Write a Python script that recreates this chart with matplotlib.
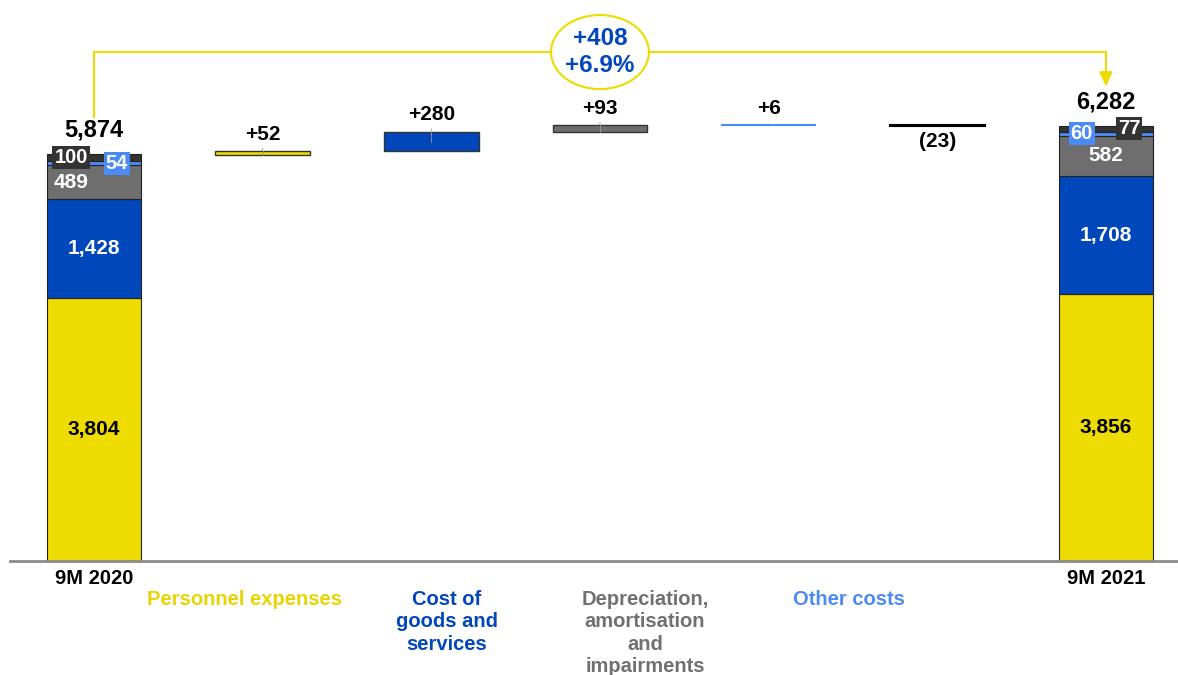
import matplotlib
matplotlib.use("Agg")
import matplotlib.pyplot as plt
from matplotlib.patches import Ellipse, Polygon
import numpy as np

plt.rcParams['font.family'] = ['Liberation Sans', 'DejaVu Sans']

# ---- data ----
periods = ["9M 2020", "9M 2021"]
personnel = [3804, 3856]
goods = [1428, 1708]
depreciation = [489, 582]
other = [54, 60]
misc = [100, 77]
totals = [5874, 6282]

bridge_labels = ["Personnel expenses", "Cost of\ngoods and\nservices",
                 "Depreciation,\namortisation\nand\nimpairments", "Other costs", ""]
bridge_values = [52, 280, 93, 6, -23]
bridge_text = ["+52", "+280", "+93", "+6", "(23)"]
delta_text = "+408\n+6.9%"

# ---- style ----
C_YEL = "#EEDC00"
C_BLUE = "#0047BB"
C_GRAY = "#6E6E6E"
C_LBLUE = "#4C8BF5"
C_DARK = "#333333"
C_BLACK = "#000000"
seg_colors = [C_YEL, C_BLUE, C_GRAY, C_LBLUE, C_DARK]
bridge_colors = [C_YEL, C_BLUE, C_GRAY, C_LBLUE, C_BLACK]
label_colors = ["#E9D400", C_BLUE, "#707070", C_LBLUE]
label_x = [0.895, 2.093, 3.267, 4.476]

FS_TOT = 17
FS_IN = 15
FS_BOX = 14.5
FS_BR = 15
FS_CAT = 14.5

fig = plt.figure(figsize=(11.78, 6.75), dpi=100)
ax = fig.add_axes([0, 0, 1, 1])
ax.set_xlim(-0.557, 6.427)
ax.set_ylim(-1647, 8107)
ax.axis('off')

W = 0.56
xs_tot = [0, 6]
segs = [personnel, goods, depreciation, other, misc]

# stacked totals
for j, x in enumerate(xs_tot):
    bottom = 0
    for s, col in zip(segs, seg_colors):
        ax.bar(x, s[j], W, bottom=bottom, color=col, edgecolor="#222222", linewidth=0.8, zorder=2)
        bottom += s[j]
    ax.annotate(f"{totals[j]:,}", xy=(x, totals[j]), xytext=(0, 17.5), textcoords="offset points",
                ha="center", va="center", fontsize=FS_TOT, fontweight="bold", color="black", zorder=5)

# inside labels
dx = 0.136
for j, x in enumerate(xs_tot):
    ax.text(x, personnel[j] / 2, f"{personnel[j]:,}", ha="center", va="center",
            fontsize=FS_IN, fontweight="bold", color="black", zorder=5)
    ax.text(x, personnel[j] + goods[j] / 2, f"{goods[j]:,}", ha="center", va="center",
            fontsize=FS_IN, fontweight="bold", color="white", zorder=5)
    yd = personnel[j] + goods[j] + depreciation[j] / 2
    ax.text(x - dx if j == 0 else x, yd, f"{depreciation[j]:,}", ha="center", va="center",
            fontsize=FS_IN, fontweight="bold", color="white", zorder=5)
    yo = personnel[j] + goods[j] + depreciation[j] + other[j] / 2
    ym = personnel[j] + goods[j] + depreciation[j] + other[j] + misc[j] / 2
    ox = x + dx if j == 0 else x - dx * 1.05
    mx = x - dx if j == 0 else x + dx
    ax.text(ox, yo, f"{other[j]}", ha="center", va="center", fontsize=FS_BOX, fontweight="bold",
            color="white", zorder=6,
            bbox=dict(boxstyle="square,pad=0.1", facecolor=C_LBLUE, edgecolor="none"))
    ax.text(mx, ym, f"{misc[j]}", ha="center", va="center", fontsize=FS_BOX, fontweight="bold",
            color="white", zorder=6,
            bbox=dict(boxstyle="square,pad=0.1", facecolor=C_DARK, edgecolor="none"))

# bridge bars
run = totals[0]
for i, (v, col, t) in enumerate(zip(bridge_values, bridge_colors, bridge_text)):
    x = i + 1
    ec = col if col in (C_LBLUE, C_BLACK) else "#333333"
    lw = 1.5 if col in (C_LBLUE, C_BLACK) else 1.0
    ax.bar(x, v, W, bottom=run, color=col, edgecolor=ec, linewidth=lw, zorder=2)
    top = max(run, run + v)
    bot = min(run, run + v)
    if v >= 0:
        ax.annotate(t, xy=(x, top), xytext=(0, 12), textcoords="offset points",
                    ha="center", va="center", fontsize=FS_BR, fontweight="bold", color="black", zorder=5)
        ax.annotate("", xy=(x, top), xytext=(0, 4), textcoords="offset points",
                    arrowprops=dict(arrowstyle="-", color="#999999", lw=0.6))
        ax.plot([x, x], [top, top - min(v, 150)], color="#999999", lw=0.6, zorder=3)
    else:
        ax.annotate(t, xy=(x, bot), xytext=(0, -11), textcoords="offset points",
                    ha="center", va="center", fontsize=FS_BR, fontweight="bold", color="black", zorder=5)
    run += v

# baseline
ax.axhline(0, xmin=10 / 1178, xmax=1, color="#8C8C8C", linewidth=2, zorder=3)

# category labels
for j, x in enumerate(xs_tot):
    ax.text(x, -246, periods[j], ha="center", va="center", fontsize=FS_CAT,
            fontweight="bold", color="black")
for lx, lab, col in zip(label_x, bridge_labels[:4], label_colors):
    ax.text(lx, -420, lab, ha="center", va="top", fontsize=FS_CAT, fontweight="bold",
            color=col, linespacing=1.22)

# bracket with delta bubble
yb = 7355
ax.plot([0, 0], [totals[0] + 542, yb], color=C_YEL, lw=1.5, zorder=1)
ax.plot([0, 6], [yb, yb], color=C_YEL, lw=1.5, zorder=1)
ax.plot([6, 6], [yb, totals[1] + 760], color=C_YEL, lw=1.5, zorder=1)
tip = totals[1] + 597
tri = Polygon([[6 - 0.036, tip + 190], [6 + 0.036, tip + 190], [6, tip]], closed=True,
              facecolor=C_YEL, edgecolor=C_YEL, zorder=2)
ax.add_patch(tri)
ell = Ellipse((3, yb), 0.58, 1070, facecolor="white", edgecolor=C_YEL, lw=1.5, zorder=3)
ax.add_patch(ell)
ax.text(3, yb, delta_text, ha="center", va="center", fontsize=17.5, fontweight="bold",
        color=C_BLUE, linespacing=1.25, zorder=4)

fig.savefig("out.png", dpi=100)
